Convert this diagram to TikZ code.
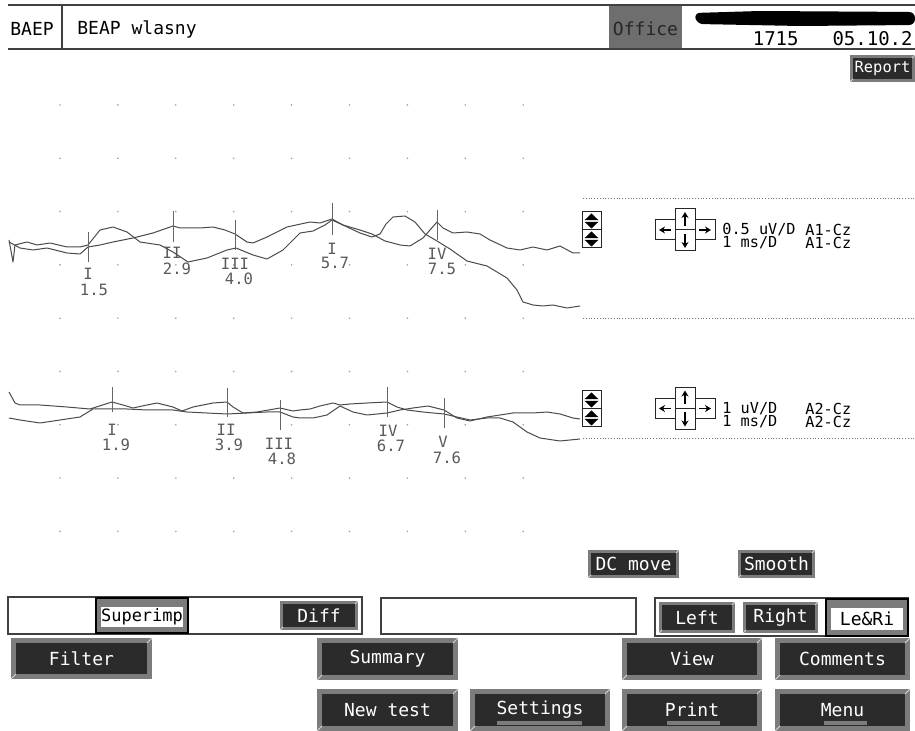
\documentclass[tikz,border=0pt]{standalone}
\usepackage{fontspec}
\newfontfamily\uifont{DejaVu Sans Mono}
\usetikzlibrary{arrows.meta}
\definecolor{traceclr}{HTML}{4A4A4A}
\definecolor{btnface}{HTML}{2B2B2B}
\definecolor{btnedge}{HTML}{7C7C7C}
\definecolor{officegray}{HTML}{6E6E6E}
\definecolor{gridclr}{HTML}{A0A0A0}
\newcommand{\GRIDX}{60}
\newcommand{\GRIDY}{105}
\newcommand{\GRIDXSTEP}{57.9}
\newcommand{\GRIDYSTEP}{53.3}
\newcommand{\SCALEX}{583}
\tikzset{
  headline/.style={black!75, line width=0.6pt},
  trace/.style={traceclr, line width=0.5pt, line join=round},
  peakmark/.style={black!60, line width=0.5pt},
  peaklabel/.style={text=black!65, font=\uifont\fontsize{7.8}{8}\selectfont, inner sep=0pt},
  uitext/.style={font=\uifont\fontsize{9}{10}\selectfont, inner sep=0pt},
  btntext/.style={uitext, text=white},
  seltext/.style={uitext, text=black},
  chaninfo/.style={font=\uifont\fontsize{7.6}{8}\selectfont, inner sep=0pt, anchor=west},
  framebox/.style={draw=black!75, line width=0.6pt, fill=white},
  scaleline/.style={densely dotted, black!55, line width=0.4pt},
  padbox/.style={draw=black!85, line width=0.5pt, fill=white},
  padarrow/.style={-{Stealth[length=3pt, width=3.5pt]}, line width=0.9pt},
}
% 按钮: [边宽]{名}{x1}{y1}{x2}{y2}{文字}
\newcommand{\panelbutton}[7][5]{%
  \fill[btnedge] (#3,#4) rectangle (#5,#6);
  \draw[white!70!btnedge, line width=0.4pt] (#3,#6) -- ({#3+#1},{#6-#1}) (#5,#4) -- ({#5-#1},{#4+#1});
  \fill[btnface] ({#3+#1},{#4+#1}) rectangle ({#5-#1},{#6-#1});
  \node[btntext] (#2) at ({(#3+#5)/2},{(#4+#6)/2}) {#7};
}
% 选中的按钮
\newcommand{\selbutton}[6]{%
  \fill[btnedge] (#2,#3) rectangle (#4,#5);
  \draw[black, line width=0.8pt] (#2,#3) rectangle (#4,#5);
  \fill[white] ({#2+5},{#3+9}) rectangle ({#4-5},{#5-6});
  \node[seltext] (#1) at ({(#2+#4)/2},{(#3+9+#5-6)/2}) {#6};
}
% 上下移动键
\newcommand{\updownpair}[2]{%
  \foreach \k in {0,1}{
    \draw[padbox] (#1,{#2+18*\k}) rectangle ({#1+19},{#2+18*\k+18});
    \fill ({#1+9.5},{#2+18*\k+1.5}) -- ({#1+16.5},{#2+18*\k+8.2}) -- ({#1+2.5},{#2+18*\k+8.2}) -- cycle;
    \fill ({#1+2.5},{#2+18*\k+9.8}) -- ({#1+16.5},{#2+18*\k+9.8}) -- ({#1+9.5},{#2+18*\k+16.5}) -- cycle;
  }
}
% 方向键
\newcommand{\crosspad}[2]{%
  \draw[padbox] ({#1-30},{#2-10}) rectangle ({#1-10},{#2+10});
  \draw[padbox] ({#1+10},{#2-10}) rectangle ({#1+30},{#2+10});
  \draw[padbox] ({#1-10},{#2-21}) rectangle ({#1+10},{#2});
  \draw[padbox] ({#1-10},{#2}) rectangle ({#1+10},{#2+21});
  \draw[padarrow] ({#1-14},{#2}) -- ({#1-26},{#2});
  \draw[padarrow] ({#1+14},{#2}) -- ({#1+26},{#2});
  \draw[padarrow] ({#1},{#2-4}) -- ({#1},{#2-18});
  \draw[padarrow] ({#1},{#2+4}) -- ({#1},{#2+18});
}

\begin{document}
\begin{tikzpicture}[x=0.5pt, y=-0.5pt]
  \useasboundingbox (0,0) rectangle (915,731);

  % 顶栏
  \draw[headline] (8,5) -- (915,5);
  \draw[headline] (8,49) -- (915,49);
  \draw[headline] (62,5) -- (62,49);
  \node[uitext, anchor=west] (mode) at (10,29) {BAEP};
  \node[uitext, anchor=west] (protocol) at (77,29) {BEAP wlasny};
  \fill[officegray] (609,6) rectangle (682,48);
  \node[uitext, text=black!85] (office) at (645.5,29) {Office};
  \fill[black, rounded corners=3pt] (694,13) -- (760,11) -- (915,12) -- (915,25) -- (800,26) -- (697,24) -- cycle;
  \node[uitext, anchor=east, font=\uifont\fontsize{9.5}{10}\selectfont] (patientid) at (799,39) {1715};
  \node[uitext, anchor=east, font=\uifont\fontsize{9.5}{10}\selectfont] (date) at (913,39) {05.10.2};
  \panelbutton[3]{report}{850}{55}{915}{82}{\fontsize{7.7}{8}\selectfont Report}

  % 网格点
  \foreach \gx in {0,...,8}
    \foreach \gy in {0,...,8}
      \fill[gridclr] ({\GRIDX+\GRIDXSTEP*\gx},{\GRIDY+\GRIDYSTEP*\gy}) circle (0.9);

  % 通道 1
  \draw[scaleline] (\SCALEX,198) -- (915,198);
  \draw[scaleline] (\SCALEX,318) -- (915,318);
  \draw[trace] plot coordinates {(9,242) (20,248) (33,250) (47,248) (67,253) (80,254) (88,247) (100,245) (113,242) (133,238) (153,233) (173,226) (180,228) (200,228) (213,227) (225,230) (235,234) (247,242) (253,243) (267,237) (287,227) (310,222) (320,223) (332,219) (343,225) (360,230) (372,234) (385,241) (400,245) (410,246) (423,238) (437,222) (443,228) (453,233) (467,232) (480,234) (490,240) (507,248) (520,250) (533,247) (547,250) (560,246) (573,253) (580,253)};
  \draw[trace] plot coordinates {(9,240) (13,262) (15,245) (27,242) (37,245) (50,243) (67,247) (80,247) (88,245) (100,230) (113,227) (127,232) (140,242) (160,245) (173,252) (188,262) (207,258) (227,250) (236,248) (253,255) (267,259) (283,250) (300,233) (313,231) (325,225) (332,220) (345,226) (360,233) (372,237) (380,234) (386,224) (393,217) (405,216) (415,222) (425,234) (437,241) (450,249) (467,261) (487,266) (507,278) (517,290) (523,302) (533,305) (543,306) (553,305) (567,308) (580,306)};
  \draw[peakmark] (88,232) -- (88,262);
  \draw[peakmark] (173,211) -- (173,242);
  \draw[peakmark] (235,220) -- (235,250);
  \draw[peakmark] (332,203) -- (332,235);
  \draw[peakmark] (437,210) -- (437,240);
  \node[peaklabel] (ch1p1) at (88,274) {I};
  \node[peaklabel] (ch1v1) at (94,290) {1.5};
  \node[peaklabel] (ch1p2) at (172,253) {II};
  \node[peaklabel] (ch1v2) at (177,269) {2.9};
  \node[peaklabel] (ch1p3) at (235,264) {III};
  \node[peaklabel] (ch1v3) at (239,279) {4.0};
  \node[peaklabel] (ch1p4) at (332,249) {I};
  \node[peaklabel] (ch1v4) at (335,263) {5.7};
  \node[peaklabel] (ch1p5) at (437,254) {IV};
  \node[peaklabel] (ch1v5) at (442,269) {7.5};
  \updownpair{582}{212}
  \crosspad{685}{230}
  \node[chaninfo] (ch1gain) at (722,230) {0.5 uV/D};
  \node[chaninfo] (ch1time) at (722,243) {1 ms/D};
  \node[chaninfo] (ch1lead) at (805,230) {A1-Cz};
  \node[chaninfo] (ch1leadb) at (805,243) {A1-Cz};

  % 通道 2
  \draw[scaleline] (\SCALEX,438) -- (915,438);
  \draw[trace] plot coordinates {(9,392) (15,403) (20,405) (40,405) (67,407) (90,409) (112,402) (123,405) (133,408) (147,405) (157,403) (173,407) (182,411) (193,407) (213,403) (227,402) (233,407) (243,413) (257,412) (280,408) (293,411) (300,410) (310,409) (320,406) (333,403) (340,405) (350,404) (367,403) (387,402) (397,407) (407,410) (423,412) (433,413) (444,414) (457,417) (470,420) (487,418) (500,418) (513,422) (527,432) (540,438) (560,441) (580,439)};
  \draw[trace] plot coordinates {(9,418) (20,420) (40,423) (60,420) (80,417) (93,409) (112,409) (127,409) (147,410) (173,410) (187,412) (207,413) (227,414) (247,413) (267,412) (280,412) (293,417) (300,418) (313,418) (327,415) (340,406) (353,412) (367,415) (387,413) (400,410) (413,408) (428,406) (444,410) (457,418) (470,421) (487,417) (500,415) (513,413) (533,413) (547,412) (560,414) (573,418) (580,419)};
  \draw[peakmark] (112,387) -- (112,412);
  \draw[peakmark] (227,388) -- (227,417);
  \draw[peakmark] (280,400) -- (280,430);
  \draw[peakmark] (387,387) -- (387,417);
  \draw[peakmark] (444,398) -- (444,428);
  \node[peaklabel] (ch2p1) at (112,430) {I};
  \node[peaklabel] (ch2v1) at (116,445) {1.9};
  \node[peaklabel] (ch2p2) at (226,430) {II};
  \node[peaklabel] (ch2v2) at (229,445) {3.9};
  \node[peaklabel] (ch2p3) at (279,444) {III};
  \node[peaklabel] (ch2v3) at (282,459) {4.8};
  \node[peaklabel] (ch2p4) at (388,431) {IV};
  \node[peaklabel] (ch2v4) at (391,446) {6.7};
  \node[peaklabel] (ch2p5) at (443,442) {V};
  \node[peaklabel] (ch2v5) at (447,458) {7.6};
  \updownpair{582}{391}
  \crosspad{685}{408.5}
  \node[chaninfo] (ch2gain) at (722,409) {1 uV/D};
  \node[chaninfo] (ch2time) at (722,422) {1 ms/D};
  \node[chaninfo] (ch2lead) at (805,409) {A2-Cz};
  \node[chaninfo] (ch2leadb) at (805,422) {A2-Cz};

  % 按钮
  \panelbutton[3]{dcmove}{588}{550}{679}{578}{DC move}
  \panelbutton[3]{smooth}{738}{550}{815}{578}{Smooth}
  \draw[framebox] (8,597) rectangle (362,634);
  \draw[framebox] (381,598) rectangle (636,634);
  \draw[framebox] (655,598) rectangle (908,636);
  \selbutton{superimp}{96}{598}{188}{633}{\fontsize{8.5}{9}\selectfont Superimp}
  \panelbutton[3]{diff}{280}{601}{358}{630}{Diff}
  \panelbutton[3]{left}{659}{602}{735}{633}{Left}
  \panelbutton[3]{right}{743}{602}{818}{633}{Right}
  \selbutton{leri}{826}{599}{908}{636}{Le\&Ri}
  \panelbutton{filter}{11}{638}{152}{679}{Filter}
  \panelbutton{summary}{317}{638}{458}{680}{Summary}
  \panelbutton{view}{622}{638}{762}{680}{View}
  \panelbutton{comments}{775}{638}{910}{680}{Comments}
  \panelbutton{newtest}{317}{689}{458}{731}{New test}
  \panelbutton{settings}{470}{689}{610}{731}{Settings}
  \panelbutton{print}{622}{689}{762}{731}{Print}
  \panelbutton{menu}{775}{689}{910}{731}{Menu}
  % 快捷键下划线
  \fill[btnedge] (497,721) rectangle (582,725);
  \fill[btnedge] (667,721) rectangle (720,725);
  \fill[btnedge] (824,721) rectangle (867,725);
\end{tikzpicture}
\end{document}
